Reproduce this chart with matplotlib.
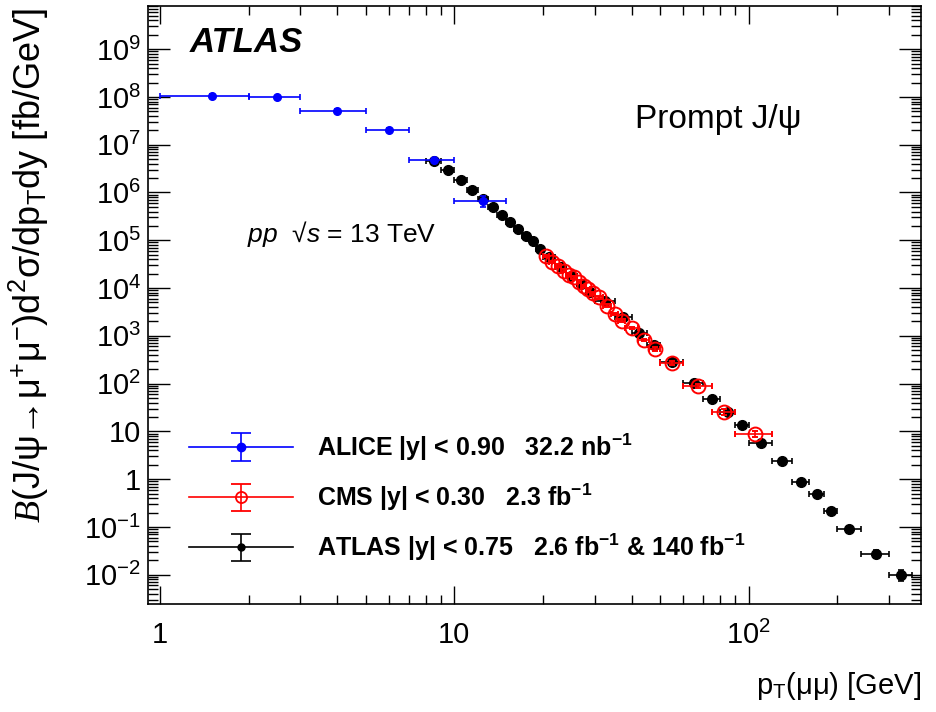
import numpy as np
import matplotlib
matplotlib.use("Agg")
import matplotlib.pyplot as plt
from matplotlib.ticker import LogLocator, FuncFormatter, NullFormatter
from matplotlib.legend_handler import HandlerErrorbar, HandlerTuple
from matplotlib.container import ErrorbarContainer
from matplotlib.lines import Line2D

# ALICE |y| < 0.90, 32.2 nb-1
alice_lo = [1, 2, 3, 5, 7, 10]
alice_hi = [2, 3, 5, 7, 10, 15]
alice_pt = [1.5, 2.5, 4.0, 6.0, 8.5, 12.5]
alice_val = [1.05e8, 9.9e7, 5.1e7, 2.05e7, 4.8e6, 6.7e5]
alice_rel = [0.08, 0.08, 0.08, 0.08, 0.10, 0.25]

# CMS |y| < 0.30, 2.3 fb-1
cms_lo = [20, 21, 22, 23, 24, 25, 26, 27, 28, 29, 30, 32, 34, 36, 38, 42, 46, 50, 60, 75, 90]
cms_hi = [21, 22, 23, 24, 25, 26, 27, 28, 29, 30, 32, 34, 36, 38, 42, 46, 50, 60, 75, 90, 120]
cms_val = [47500, 35600, 29400, 23100, 19100, 16700, 13600, 11200, 9600, 7900,
           6400, 4300, 2880, 2080, 1470, 823, 533, 272, 91, 25.7, 8.8]
cms_rel = [0.06] * 15 + [0.07, 0.08, 0.08, 0.10, 0.12, 0.15]

# ATLAS |y| < 0.75, 2.6 fb-1 & 140 fb-1
atlas_lo = [8, 9, 10, 11, 12, 13, 14, 15, 16, 17, 18, 19, 20, 22, 24, 26, 28,
            30, 35, 40, 45, 50, 60, 70, 80, 90, 100, 120, 140, 160, 180, 200, 240, 300]
atlas_hi = [9, 10, 11, 12, 13, 14, 15, 16, 17, 18, 19, 20, 22, 24, 26, 28, 30,
            35, 40, 45, 50, 60, 70, 80, 90, 100, 120, 140, 160, 180, 200, 240, 300, 360]
atlas_val = [4.6e6, 2.94e6, 1.82e6, 1.14e6, 7.3e5, 5.0e5, 3.37e5, 2.36e5, 1.72e5, 1.24e5,
             9.5e4, 6.6e4, 4.4e4, 2.7e4, 1.8e4, 1.24e4, 8400,
             5460, 2440, 1130, 656, 290, 105, 48.8, 26.1, 13.5, 5.7, 2.39, 0.89,
             0.50, 0.215, 0.092, 0.0277, 0.0099]
atlas_rel = [0.05] * 25 + [0.06, 0.07, 0.08, 0.10, 0.12, 0.14, 0.16, 0.20, 0.25]

FONT = "Liberation Sans"
plt.rcParams["font.family"] = [FONT, "DejaVu Sans"]
plt.rcParams["mathtext.fontset"] = "custom"
plt.rcParams["mathtext.rm"] = FONT
plt.rcParams["mathtext.it"] = FONT + ":italic"
plt.rcParams["mathtext.bf"] = FONT + ":bold"
plt.rcParams["mathtext.cal"] = "Liberation Serif:italic"
plt.rcParams["mathtext.default"] = "regular"


def centers_errs(lo, hi):
    lo = np.array(lo, float)
    hi = np.array(hi, float)
    c = 0.5 * (lo + hi)
    return c, [c - lo, hi - c]


fig = plt.figure(figsize=(9.36, 7.12), dpi=100)
ax = fig.add_axes([0.1581, 0.1517, 0.8259, 0.8399])
ax.set_xscale("log")
ax.set_yscale("log")

# ATLAS
pt, xe = centers_errs(atlas_lo, atlas_hi)
val = np.array(atlas_val)
ax.errorbar(pt, val, xerr=xe, yerr=val * np.array(atlas_rel), fmt="o", color="black",
            ms=7, elinewidth=1.2, capsize=2, capthick=1.2, zorder=3)

# CMS
pt, xe = centers_errs(cms_lo, cms_hi)
val = np.array(cms_val)
ax.errorbar(pt, val, xerr=xe, yerr=val * np.array(cms_rel), fmt="o", color="red",
            mfc="none", mec="red", mew=1.4, ms=10, elinewidth=1.2, capsize=2,
            capthick=1.2, zorder=4)

# ALICE
xe = [np.array(alice_pt) - alice_lo, np.array(alice_hi) - alice_pt]
val = np.array(alice_val)
ax.errorbar(alice_pt, val, xerr=xe, yerr=val * np.array(alice_rel), fmt="o", color="blue",
            ms=5.5, elinewidth=1.2, capsize=2, capthick=1.2, zorder=5)

ax.set_xlim(0.91, 385)
ax.set_ylim(2.45e-3, 8.0e9)

# ticks in ROOT style
ax.xaxis.set_major_locator(LogLocator(base=10, numticks=50))
ax.xaxis.set_minor_locator(LogLocator(base=10, subs=np.arange(2, 10), numticks=50))
ax.yaxis.set_major_locator(LogLocator(base=10, numticks=50))
ax.yaxis.set_minor_locator(LogLocator(base=10, subs=np.arange(2, 10), numticks=50))
ax.xaxis.set_minor_formatter(NullFormatter())
ax.yaxis.set_minor_formatter(NullFormatter())


def root_fmt(v, pos):
    e = int(round(np.log10(v)))
    if e == 0:
        return "1"
    if e == 1:
        return "10"
    return r"10$^{%d}$" % e


ax.xaxis.set_major_formatter(FuncFormatter(root_fmt))
ax.yaxis.set_major_formatter(FuncFormatter(root_fmt))
ax.tick_params(which="both", direction="in", top=True, right=True, width=1.0)
ax.tick_params(axis="x", which="major", length=13, pad=12, labelsize=21)
ax.tick_params(axis="x", which="minor", length=6.5)
ax.tick_params(axis="y", which="major", length=16, pad=5, labelsize=21)
ax.tick_params(axis="y", which="minor", length=7)
for s in ax.spines.values():
    s.set_linewidth(1.2)

ax.set_xlabel(r"p$_{T}$(μμ) [GeV]", fontsize=21, loc="right")
ax.xaxis.set_label_coords(1.0, -0.11)
ax.set_ylabel(r"$\mathcal{B}$(J/ψ→μ$^{+}$μ$^{-}$)d$^{2}$σ/dp$_{T}$dy [fb/GeV]",
              fontsize=26, loc="top")
ax.yaxis.set_label_coords(-0.126, 0.997)

ax.text(0.054, 0.939, "ATLAS", transform=ax.transAxes, fontsize=25,
        fontweight="bold", fontstyle="italic", va="center", ha="left")
ax.text(0.128, 0.605, r"$\mathit{pp}$  √$\mathit{s}$ = 13 TeV", transform=ax.transAxes,
        fontsize=19, va="baseline", ha="left")
ax.text(0.630, 0.7965, "Prompt J/ψ", transform=ax.transAxes,
        fontsize=24, va="baseline", ha="left")

# legend proxies
nan = [np.nan]
h_alice = ax.errorbar(nan, nan, yerr=1, fmt="o", color="blue", ms=6,
                      elinewidth=1.2, capsize=7, capthick=1.2)
h_cms = ax.errorbar(nan, nan, yerr=1, fmt="o", color="red", mfc="none", mec="red",
                    mew=1.3, ms=8, elinewidth=1.2, capsize=7, capthick=1.2)
h_atlas = ax.errorbar(nan, nan, yerr=1, fmt="o", color="black", ms=5,
                      elinewidth=1.2, capsize=7, capthick=1.2)
l_alice = Line2D([], [], color="blue", lw=1.2)
l_cms = Line2D([], [], color="red", lw=1.2)
l_atlas = Line2D([], [], color="black", lw=1.2)

labels = [r"ALICE |y| < 0.90   32.2 nb$^{\mathbf{-1}}$",
          r"CMS |y| < 0.30   2.3 fb$^{\mathbf{-1}}$",
          r"ATLAS |y| < 0.75   2.6 fb$^{\mathbf{-1}}$ & 140 fb$^{\mathbf{-1}}$"]
ax.legend([(l_alice, h_alice), (l_cms, h_cms), (l_atlas, h_atlas)], labels,
          handler_map={tuple: HandlerTuple(ndivide=1),
                       ErrorbarContainer: HandlerErrorbar(yerr_size=0.55)},
          loc="center left", bbox_to_anchor=(0.053, 0.1784), frameon=False,
          borderpad=0, borderaxespad=0, handlelength=4.17, handletextpad=0.95,
          labelspacing=0.75, prop={"family": FONT, "weight": "bold", "size": 18})

fig.savefig("out.png", dpi=100)
